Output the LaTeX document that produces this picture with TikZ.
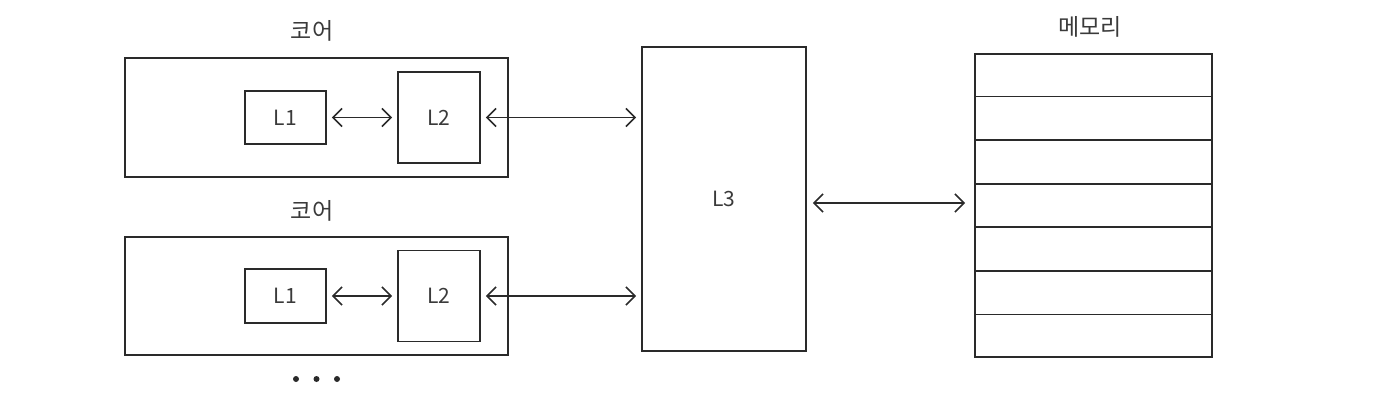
\documentclass[tikz,border=0pt]{standalone}
\usepackage{fontspec}
\setmainfont{Noto Sans CJK KR}
\usetikzlibrary{arrows.meta,calc}
\definecolor{ink}{HTML}{2A2A2A}
\definecolor{txt}{HTML}{3A3A3A}
\begin{document}
\begin{tikzpicture}[x=1pt,y=-1pt,
  box/.style={draw=ink,line width=1.8pt,rectangle,inner sep=0pt,font=\fontsize{21}{21}\selectfont,text=txt},
  link/.style={draw=ink,line width=1.6pt,{Straight Barb[length=9pt,width=18pt,line width=1.6pt]}-{Straight Barb[length=9pt,width=18pt,line width=1.6pt]},shorten <=5pt,shorten >=5pt},
  lbl/.style={font=\fontsize{23}{23}\selectfont,text=txt,inner sep=0pt},
  dotc/.style={circle,fill=ink,inner sep=0pt,minimum size=6pt}]
\useasboundingbox (0,0) rectangle (1381,406);
% cores
\node[box,minimum width=383pt,minimum height=119pt] (C1) at (316.5,117.5) {};
\node[box,minimum width=81pt,minimum height=53pt] (L1a) at (285.5,117.5) {L1};
\node[box,minimum width=82pt,minimum height=91pt] (L2a) at (439,117.5) {L2};
\node[lbl] (T1) at (312,31) {코어};
\node[box,minimum width=383pt,minimum height=118pt] (C2) at (316.5,296) {};
\node[box,minimum width=81pt,minimum height=54pt] (L1b) at (285.5,296) {L1};
\node[box,minimum width=82pt,minimum height=91pt] (L2b) at (439,296) {L2};
\node[lbl] (T2) at (312,211) {코어};
% L3
\node[box,minimum width=164pt,minimum height=304pt] (L3) at (724,199) {L3};
% memory
\node[box,minimum width=237pt,minimum height=303pt] (Mem) at (1093.5,205.5) {};
\node[lbl] (T3) at (1090,27) {메모리};
\foreach \i in {1,...,6}{
  \draw[ink,line width=1.6pt] ($(Mem.north west)!\i/7!(Mem.south west)$) -- ($(Mem.north east)!\i/7!(Mem.south east)$);
}
% dots
\node[dotc] (d1) at (296,379) {};
\node[dotc] (d2) at (316.5,379) {};
\node[dotc] (d3) at (337,379) {};
% links
\draw[link] (L1a.east) -- (L2a.west);
\draw[link] (L1b.east) -- (L2b.west);
\draw[link] (L2a.east) -- (L2a.east -| L3.west);
\draw[link] (L2b.east) -- (L2b.east -| L3.west);
\draw[link,shorten <=6pt,shorten >=9pt] ($(L3.east)+(0,4)$) -- ($(L3.east -| Mem.west)+(0,4)$);
\end{tikzpicture}
\end{document}
